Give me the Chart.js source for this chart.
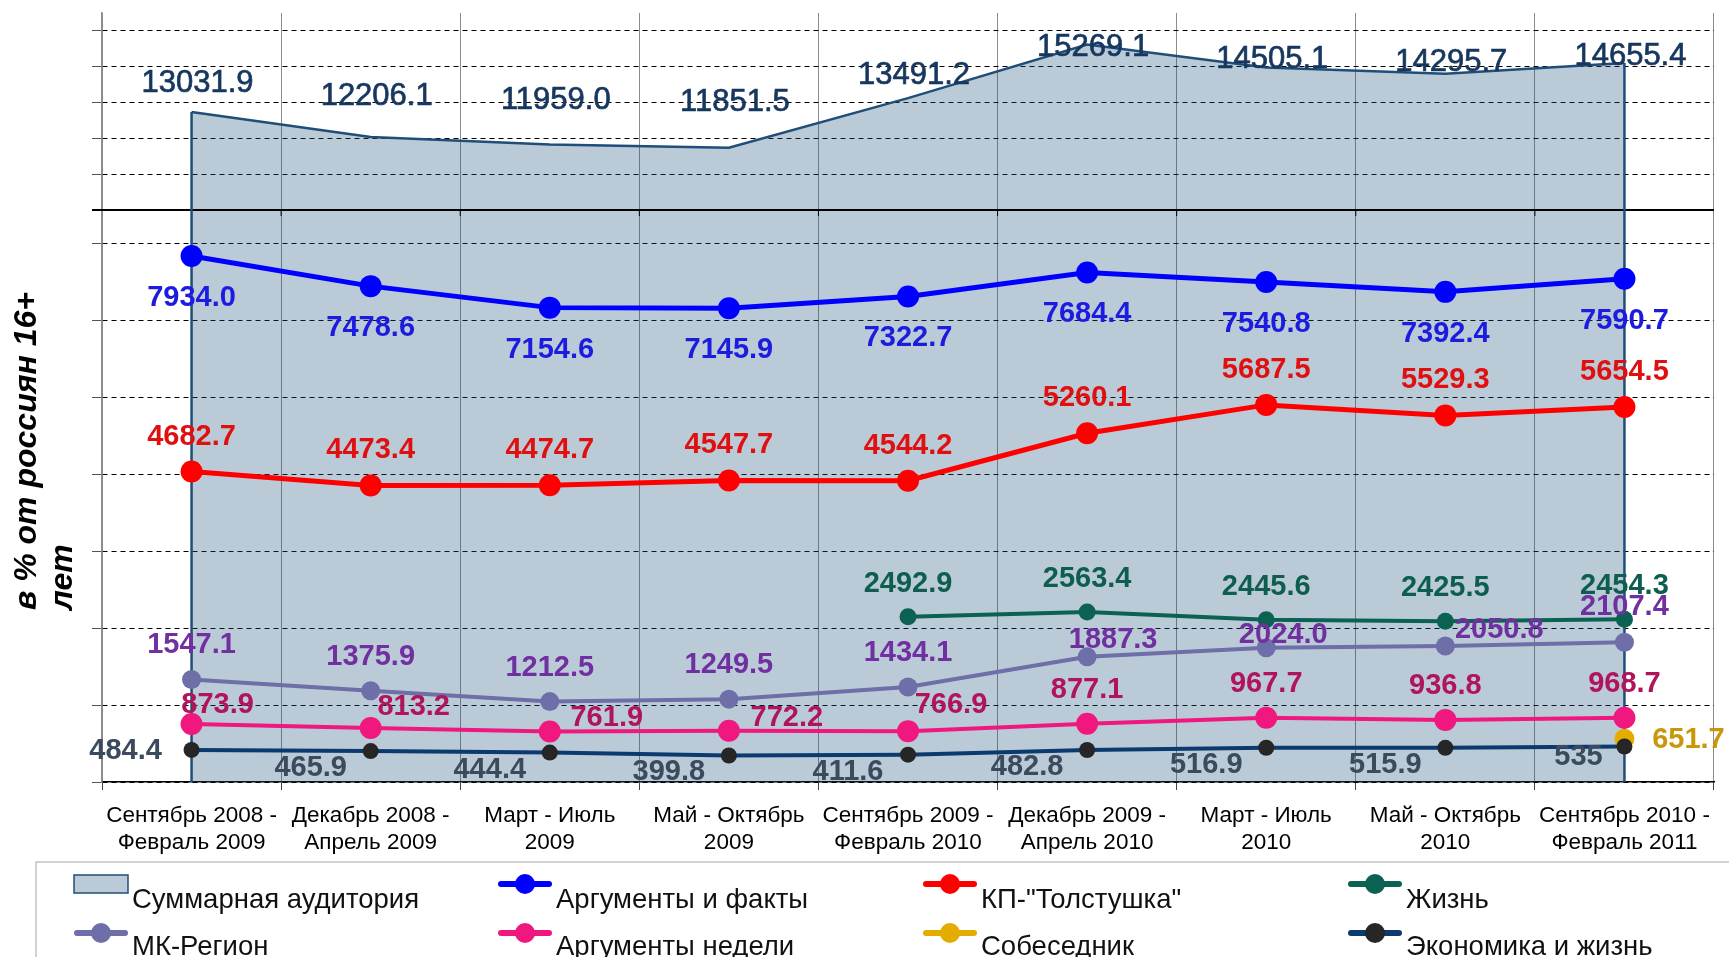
<!DOCTYPE html>
<html>
<head>
<meta charset="utf-8">
<script src="https://cdn.jsdelivr.net/npm/chart.js@4.4.1/dist/chart.umd.min.js"></script>
<style>
html,body{margin:0;padding:0;background:#ffffff;}
#wrap{position:relative;width:1729px;height:957px;overflow:hidden;}
canvas{display:block;}
</style>
</head>
<body>
<div id="wrap"><canvas id="c" width="1729" height="957"></canvas></div>
<script>
// ---------------- DATA ----------------
const categories = [
  ['Сентябрь 2008 -', 'Февраль 2009'],
  ['Декабрь 2008 -', 'Апрель 2009'],
  ['Март - Июль', '2009'],
  ['Май - Октябрь', '2009'],
  ['Сентябрь 2009 -', 'Февраль 2010'],
  ['Декабрь 2009 -', 'Апрель 2010'],
  ['Март - Июль', '2010'],
  ['Май - Октябрь', '2010'],
  ['Сентябрь 2010 -', 'Февраль 2011']
];
const seriesNames = ['Суммарная аудитория', 'Аргументы и факты', 'КП-"Толстушка"', 'Жизнь',
                     'МК-Регион', 'Аргументы недели', 'Собеседник', 'Экономика и жизнь'];
const totalAudience = [13031.9, 12206.1, 11959.0, 11851.5, 13491.2, 15269.1, 14505.1, 14295.7, 14655.4];
const argumentyFakty = [7934.0, 7478.6, 7154.6, 7145.9, 7322.7, 7684.4, 7540.8, 7392.4, 7590.7];
const kpTolstushka = [4682.7, 4473.4, 4474.7, 4547.7, 4544.2, 5260.1, 5687.5, 5529.3, 5654.5];
const zhizn = [null, null, null, null, 2492.9, 2563.4, 2445.6, 2425.5, 2454.3];
const mkRegion = [1547.1, 1375.9, 1212.5, 1249.5, 1434.1, 1887.3, 2024.0, 2050.8, 2107.4];
const argumentyNedeli = [873.9, 813.2, 761.9, 772.2, 766.9, 877.1, 967.7, 936.8, 968.7];
const sobesednik = [null, null, null, null, null, null, null, null, 651.7];
const ekonomika = [484.4, 465.9, 444.4, 399.8, 411.6, 482.8, 516.9, 515.9, 535];
const ekonomikaText = ['484.4', '465.9', '444.4', '399.8', '411.6', '482.8', '516.9', '515.9', '535'];
const yTitleLines = ['в % от россиян 16+', 'лет'];

// gridline values of the broken value axis (no tick labels are shown)
const lowerGridStep = 1160;
const upperGridStep = 1192;
const axisBreak = { lowMax: 8627, highMin: 9787, top: 16310 };
const yGridValues = [];
for (let i = 0; i * lowerGridStep < axisBreak.lowMax - 200; i++) yGridValues.push(i * lowerGridStep);
for (let i = 1; axisBreak.highMin + i * upperGridStep < axisBreak.top; i++) yGridValues.push(axisBreak.highMin + i * upperGridStep);

// ---------------- BROKEN LINEAR SCALE ----------------
const LinearScale = Chart.registry.getScale('linear');
class BrokenLinearScale extends LinearScale {
  _split() {
    const o = this.options.brk;
    return { o, px: this.bottom - (this.bottom - this.top) * o.lowShare };
  }
  getPixelForValue(value) {
    if (value === null || value === undefined || isNaN(value)) return NaN;
    const { o, px } = this._split();
    if (value <= o.lowMax) return this.bottom - (value - this.min) / (o.lowMax - this.min) * (this.bottom - px);
    if (value >= o.highMin) return px - (value - o.highMin) / (this.max - o.highMin) * (px - this.top);
    return px;
  }
  getValueForPixel(pixel) {
    const { o, px } = this._split();
    if (pixel >= px) return this.min + (this.bottom - pixel) / (this.bottom - px) * (o.lowMax - this.min);
    return o.highMin + (px - pixel) / (px - this.top) * (this.max - o.highMin);
  }
  getBreakPixel() { return this._split().px; }
}
BrokenLinearScale.id = 'brokenLinear';
BrokenLinearScale.defaults = LinearScale.defaults;
Chart.register(BrokenLinearScale);

const FONT = "'Liberation Sans', Arial, sans-serif";

// ---------------- PLUGINS ----------------
const areaDecor = {
  id: 'areaDecor',
  afterDatasetDraw(chart, args, opts) {
    if (args.index !== 0) return;
    const ctx = chart.ctx;
    const y = chart.scales.y;
    const x = chart.scales.x;
    const pts = args.meta.data;
    const base = y.getBasePixel();
    const bp = y.getBreakPixel();
    ctx.save();
    ctx.strokeStyle = '#000000';
    ctx.lineWidth = 2;
    ctx.beginPath();
    ctx.moveTo(chart.chartArea.left - 10, bp);
    ctx.lineTo(chart.chartArea.right, bp);
    ctx.stroke();
    ctx.lineWidth = 1;
    for (let i = 1; i < chart.data.labels.length; i++) {
      const gx = (x.getPixelForValue(i - 1) + x.getPixelForValue(i)) / 2;
      ctx.beginPath(); ctx.moveTo(gx, bp); ctx.lineTo(gx, bp + 6); ctx.stroke();
    }
    ctx.strokeStyle = chart.data.datasets[0].borderColor;
    ctx.lineWidth = 2.5;
    [pts[0], pts[pts.length - 1]].forEach(p => {
      ctx.beginPath(); ctx.moveTo(p.x, p.y); ctx.lineTo(p.x, base); ctx.stroke();
    });
    ctx.restore();
  }
};

const valueLabels = {
  id: 'valueLabels',
  afterDatasetsDraw(chart, args, opts) {
    const ctx = chart.ctx;
    chart.data.datasets.forEach((ds, di) => {
      const cfg = opts.styles[di];
      if (!cfg) return;
      const meta = chart.getDatasetMeta(di);
      ctx.save();
      ctx.font = cfg.font;
      ctx.fillStyle = cfg.color;
      ctx.strokeStyle = cfg.color;
      ctx.lineWidth = cfg.stroke || 0;
      ctx.textAlign = 'center';
      ctx.textBaseline = 'middle';
      ds.data.forEach((v, i) => {
        if (v === null || v === undefined) return;
        const el = meta.data[i];
        let yy = el.y;
        if (cfg.scaleID) yy = chart.scales[cfg.scaleID].getPixelForValue(v);
        const n = (cfg.nudge && cfg.nudge[i]) || [cfg.dx || 0, cfg.dy || 0];
        const text = cfg.text ? cfg.text[i] : v.toFixed(1);
        ctx.fillText(text, el.x + n[0], yy + n[1]);
        if (cfg.stroke) ctx.strokeText(text, el.x + n[0], yy + n[1]);
      });
      ctx.restore();
    });
  }
};

const axisTitle = {
  id: 'axisTitle',
  afterDraw(chart, args, o) {
    const ctx = chart.ctx;
    ctx.save();
    ctx.font = o.font;
    ctx.fillStyle = o.color;
    ctx.textAlign = 'left';
    ctx.textBaseline = 'middle';
    o.lines.forEach((line, i) => {
      ctx.save();
      ctx.translate(o.x[i], o.startY);
      ctx.rotate(-Math.PI / 2);
      ctx.fillText(line, 0, 0);
      ctx.restore();
    });
    ctx.restore();
  }
};

const gridLegend = {
  id: 'gridLegend',
  afterDraw(chart, args, o) {
    const ctx = chart.ctx;
    ctx.save();
    ctx.strokeStyle = o.frameColor;
    ctx.lineWidth = 1.5;
    ctx.strokeRect(o.frame[0], o.frame[1], o.frame[2], o.frame[3]);
    ctx.font = o.font;
    ctx.textAlign = 'left';
    ctx.textBaseline = 'middle';
    chart.data.datasets.forEach((ds, i) => {
      const col = i % 4, row = Math.floor(i / 4);
      const x = o.colX[col];
      const my = o.markerY[row];
      if (ds.fill) {
        ctx.fillStyle = '#ffffff';
        ctx.fillRect(x, my - 9, o.markerW, 18);
        ctx.fillStyle = ds.backgroundColor;
        ctx.fillRect(x, my - 9, o.markerW, 18);
        ctx.strokeStyle = ds.borderColor;
        ctx.lineWidth = 1.5;
        ctx.strokeRect(x, my - 9, o.markerW, 18);
      } else {
        ctx.strokeStyle = ds.borderColor;
        ctx.lineWidth = 6;
        ctx.lineCap = 'round';
        ctx.beginPath(); ctx.moveTo(x + 3, my); ctx.lineTo(x + o.markerW - 3, my); ctx.stroke();
        ctx.fillStyle = ds.pointBackgroundColor;
        ctx.beginPath(); ctx.arc(x + o.markerW / 2, my, 10, 0, Math.PI * 2); ctx.fill();
      }
      ctx.fillStyle = o.textColor;
      ctx.fillText(ds.label, x + o.markerW + 4, o.textY[row]);
    });
    ctx.restore();
  }
};

// ---------------- CHART ----------------
const lineDs = (label, data, color, width, radius, pointColor, order) => ({
  label, data,
  borderColor: color, backgroundColor: pointColor || color,
  pointBackgroundColor: pointColor || color, pointBorderWidth: 0,
  borderWidth: width, pointRadius: radius, pointHoverRadius: radius,
  fill: false, tension: 0, order: order || 0
});

const LBL = 'bold 29px ' + FONT;

new Chart(document.getElementById('c'), {
  type: 'line',
  data: {
    labels: categories,
    datasets: [
      { label: seriesNames[0], data: totalAudience, borderColor: '#1F4E79', backgroundColor: 'rgba(31,78,121,0.30)',
        borderWidth: 2.5, pointRadius: 0, fill: 'origin', tension: 0, order: 10 },
      lineDs(seriesNames[1], argumentyFakty, '#0000FF', 5, 11),
      lineDs(seriesNames[2], kpTolstushka, '#FF0000', 5, 11),
      lineDs(seriesNames[3], zhizn, '#0B6152', 4, 8.5),
      lineDs(seriesNames[4], mkRegion, '#6E6EA8', 4, 9.5),
      lineDs(seriesNames[5], argumentyNedeli, '#F0187F', 4, 11),
      lineDs(seriesNames[6], sobesednik, '#E5AC00', 4, 10, null, 1),
      lineDs(seriesNames[7], ekonomika, '#0A3A6E', 4, 8, '#262626')
    ]
  },
  options: {
    responsive: false,
    animation: false,
    devicePixelRatio: 1,
    layout: { padding: { top: 13, right: 15, bottom: 95, left: 0 } },
    events: [],
    plugins: {
      legend: { display: false },
      tooltip: { enabled: false },
      valueLabels: {
        styles: {
          0: { font: '31px ' + FONT, color: '#17375E', scaleID: 'yLbl', dx: 6, dy: 4, stroke: 0.7 },
          1: { font: LBL, color: '#1C1CE0', dy: 42 },
          2: { font: LBL, color: '#E01010', dy: -35 },
          3: { font: LBL, color: '#0E5E50', dy: -33 },
          4: { font: LBL, color: '#7030A0', dy: -34,
               nudge: [null, null, null, null, null, [26, -17], [17, -13], [54, -16], [0, -35]] },
          5: { font: LBL, color: '#B0145A', dy: -34,
               nudge: [[26, -19], [43, -21], [57, -13], [58, -13], [43, -26], null, null, null, null] },
          6: { font: LBL, color: '#C9970A', dx: 64, dy: 1 },
          7: { font: LBL, color: '#3B4A5C', dx: -60, dy: 17, text: ekonomikaText,
               nudge: [[-66, 1], null, null, null, null, null, null, null, [-46, 10]] }
        }
      },
      axisTitle: { lines: yTitleLines, x: [27, 63], startY: 610, font: 'italic bold 32px ' + FONT, color: '#000000' },
      gridLegend: {
        frame: [36, 862, 1720, 120], frameColor: '#c4c4c4',
        colX: [74, 498, 923, 1348], markerW: 54, markerY: [884, 933], textY: [900, 947],
        font: '27.5px ' + FONT, textColor: '#111111'
      }
    },
    scales: {
      x: {
        type: 'category', offset: true,
        grid: { offset: true, color: '#8c8c8c', lineWidth: 1, drawTicks: true, tickLength: 8, tickColor: '#444444' },
        border: { display: true, color: '#000000', width: 1.5 },
        ticks: { color: '#000000', font: { family: FONT, size: 22.5, lineHeight: 1.2 }, padding: 12,
                 maxRotation: 0, minRotation: 0, autoSkip: false },
        afterFit(s) { s.height = 80; }
      },
      y: {
        type: 'brokenLinear', min: 0, max: axisBreak.top, bounds: 'data',
        brk: { lowMax: axisBreak.lowMax, highMin: axisBreak.highMin, lowShare: 572 / 769 },
        ticks: { display: false },
        grid: { color: '#000000', lineWidth: 1, drawTicks: true, tickLength: 10, tickColor: '#555555', borderDash: [5, 4] },
        border: { display: true, color: '#8c8c8c', width: 1.5, dash: [5, 4] },
        afterBuildTicks(s) { s.ticks = yGridValues.map(v => ({ value: v })); },
        afterFit(s) { s.width = 102; }
      },
      yLbl: { type: 'linear', display: false, min: -30630, max: 17130 }
    }
  },
  plugins: [areaDecor, valueLabels, axisTitle, gridLegend]
});
</script>
</body>
</html>
